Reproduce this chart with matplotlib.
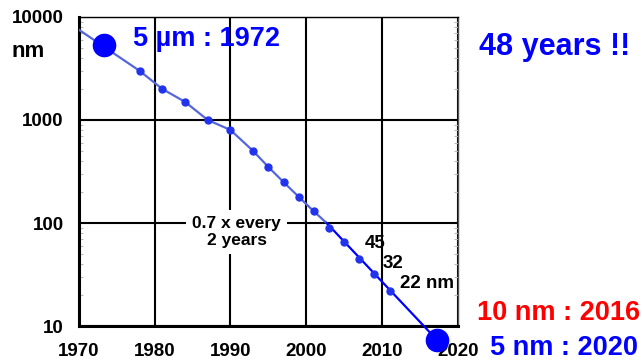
#!/usr/bin/env python3

import matplotlib.pyplot as plt
import numpy as np

plt.rcParams["font.family"] = ["Liberation Sans", "DejaVu Sans"]
plt.rcParams["font.weight"] = "bold"

# node sizes (nm)
years = [1978, 1981, 1984, 1987, 1990, 1993, 1995, 1997, 1999, 2001,
         2003, 2005, 2007, 2009, 2011]
node_nm = [3000, 2000, 1500, 1000, 800, 500, 350, 250, 180, 130,
           90, 65, 45, 32, 22]

# trend line: faded part from 1970, strong part to the 2020 node
trend_start = (1970, 7500)
strong_years = [2002.7, 2017.3]
strong_nm = [100, 7.3]

first_node = (1973.3, 5400)
year_ticks = [1970, 1980, 1990, 2000, 2010, 2020]
nm_ticks = [10, 100, 1000, 10000]
nm_labels = ["10", "100", "1000", "10000"]

blue = "#0000ff"

fig = plt.figure(figsize=(6.42, 3.60), dpi=100)
ax = fig.add_axes([0.123, 0.094, 0.590, 0.859])
ax.set_yscale("log")
ax.set_xlim(1970, 2020)
ax.set_ylim(10, 10000)

ax.set_xticks(year_ticks)
ax.set_xticklabels([str(y) for y in year_ticks])
ax.set_yticks(nm_ticks)
ax.set_yticklabels(nm_labels)
ax.tick_params(axis="both", which="major", length=0, labelsize=13.5)
ax.tick_params(axis="y", which="major", pad=11)
ax.tick_params(axis="x", which="major", pad=12)
ax.tick_params(axis="y", which="minor", direction="in", length=3, width=0.8,
               color="#bbbbbb", left=True, right=True, labelleft=False)
ax.set_axisbelow(True)
ax.grid(True, which="major", color="black", linewidth=1.5)

for side, lw, col in [("left", 2.2, "black"), ("bottom", 2.2, "black"),
                      ("top", 1.0, "black"), ("right", 1.0, "#555555")]:
    ax.spines[side].set_linewidth(lw)
    ax.spines[side].set_color(col)

# faded trend with the historic nodes
ax.plot([trend_start[0]] + years[:10] + strong_years[:1],
        [trend_start[1]] + node_nm[:10] + strong_nm[:1],
        color="#5566dd", linewidth=1.6, zorder=3)
ax.plot(years, node_nm, "o", color="#2233ee", markersize=5, zorder=4)

# strong recent trend to 5 nm
ax.plot(strong_years, strong_nm, color=blue, linewidth=1.6, zorder=3,
        clip_on=False)
ax.plot(strong_years[-1], strong_nm[-1], "o", color=blue, markersize=16,
        zorder=5, clip_on=False)
ax.plot(first_node[0], first_node[1], "o", color=blue, markersize=16, zorder=5)

ax.text(1977.1, 6100, "5 \u00b5m : 1972", color=blue, fontsize=19.5,
        va="center", ha="left", zorder=6)
ax.text(1990.8, 82, "0.7 x every\n2 years", fontsize=12.5, ha="center",
        va="center", linespacing=1.1, zorder=6,
        bbox=dict(boxstyle="square,pad=0.35", facecolor="white",
                  edgecolor="none"))
ax.text(2009.05, 64, "45", fontsize=13.5, ha="center", va="center", zorder=6)
ax.text(2011.4, 40.6, "32", fontsize=13.5, ha="center", va="center", zorder=6)
ax.text(2012.35, 26, "22 nm", fontsize=13.5, ha="left", va="center", zorder=6)

fig.text(0.0436, 0.856, "nm", fontsize=16, ha="center", va="center")
fig.text(0.746, 0.869, "48 years !!", color=blue, fontsize=22, va="center")
fig.text(0.743, 0.131, "10 nm : 2016", color="#ff0000", fontsize=19.5,
         va="center")
fig.text(0.763, 0.033, "5 nm : 2020", color=blue, fontsize=19.5, va="center")

fig.savefig("out.png", dpi=100)
